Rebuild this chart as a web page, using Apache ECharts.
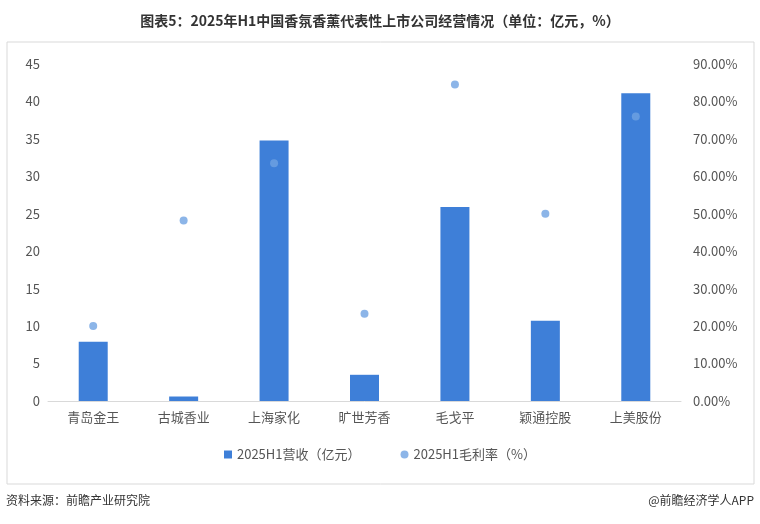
<!DOCTYPE html>
<html><head><meta charset="utf-8">
<script src="https://cdn.jsdelivr.net/npm/echarts@6/dist/echarts.min.js"></script>
<style>body{margin:0;background:#fff}#c{width:760px;height:524px}</style>
</head><body><div id="c"></div>
<script>
const categories = ['青岛金王', '古城香业', '上海家化', '旷世芳香', '毛戈平', '颖通控股', '上美股份'];
const revenue = [7.9, 0.6, 34.8, 3.5, 25.9, 10.7, 41.1];
const grossMargin = [20.0, 48.2, 63.5, 23.3, 84.5, 50.0, 76.0];

const chart = echarts.init(document.getElementById('c'));
chart.setOption({
    textStyle: {fontFamily: 'Noto Sans CJK SC'},
    title: {
        text: '图表5：2025年H1中国香氛香薰代表性上市公司经营情况（单位：亿元，%）',
        left: 'center', top: 9,
        textStyle: {fontSize: 14, fontWeight: 'bold', color: '#333'}
    },
    graphic: [
        {type: 'rect', shape: {x: 7, y: 42, width: 747, height: 442}, style: {fill: 'none', stroke: '#d9d9d9'}},
        {type: 'text', left: 6, top: 494, style: {text: '资料来源：前瞻产业研究院', fontSize: 12, fill: '#333', fontFamily: 'Noto Sans CJK SC'}},
        {type: 'text', right: 6, top: 494, style: {text: '@前瞻经济学人APP', fontSize: 12, fill: '#333', fontFamily: 'Noto Sans CJK SC'}}
    ],
    legend: {
        bottom: 58, itemWidth: 8, itemHeight: 8, itemGap: 40,
        textStyle: {fontSize: 13, color: '#555'},
        data: [{name: '2025H1营收（亿元）', icon: 'rect'}, {name: '2025H1毛利率（%）', icon: 'circle'}]
    },
    grid: {left: 48, right: 79, top: 64, bottom: 123},
    xAxis: {
        type: 'category', data: categories,
        axisTick: {show: false},
        axisLine: {lineStyle: {color: '#d9d9d9'}},
        axisLabel: {fontSize: 13, color: '#555', margin: 10}
    },
    yAxis: [
        {type: 'value', min: 0, max: 45, interval: 5,
         axisLabel: {fontSize: 13, color: '#555'}, splitLine: {show: false}},
        {type: 'value', min: 0, max: 90, interval: 10,
         axisLabel: {fontSize: 13, color: '#555', margin: 12, formatter: v => v.toFixed(2) + '%'}, splitLine: {show: false}}
    ],
    series: [
        {name: '2025H1营收（亿元）', type: 'bar', data: revenue, barWidth: 29,
         itemStyle: {color: '#3e7fd8'}},
        {name: '2025H1毛利率（%）', type: 'scatter', yAxisIndex: 1, data: grossMargin, symbolSize: 8,
         itemStyle: {color: '#6fa2e2'}}
    ]
});
</script></body></html>
